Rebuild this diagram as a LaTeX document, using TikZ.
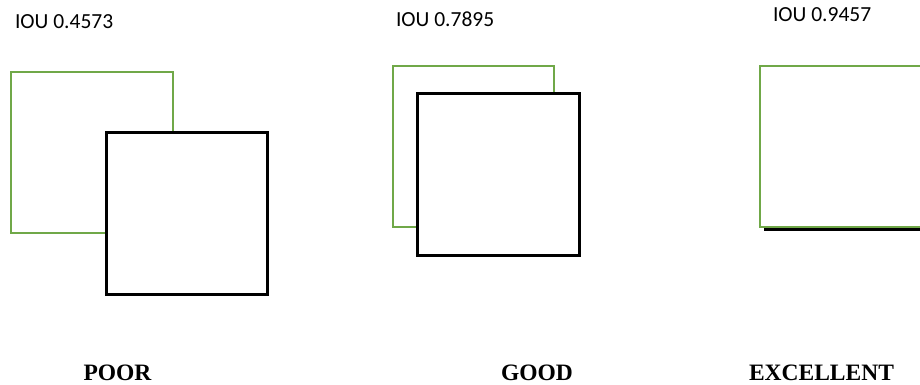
\documentclass[tikz,border=0pt]{standalone}
\usepackage{fontspec}
\setmainfont{Liberation Serif}
\newfontfamily\calibri{Carlito}
\usetikzlibrary{positioning}
\definecolor{gtgreen}{RGB}{112,168,72}

\begin{document}
\begin{tikzpicture}[
  x=1pt, y=-1pt,
  every node/.style={inner sep=0pt, outer sep=0pt},
  gtbox/.style  ={draw=gtgreen, line width=2.3pt, fill=white,
                  minimum width=161.5pt, minimum height=161.5pt},
  predbox/.style={draw=black, line width=2.7pt, fill=white,
                  minimum width=161.5pt, minimum height=161.5pt},
  iou/.style    ={font=\calibri\fontsize{21.5}{25}\selectfont, anchor=base west},
  grade/.style  ={font=\bfseries\fontsize{23.5}{28}\selectfont, anchor=base}]

\useasboundingbox (0,0) rectangle (920,385);
\clip (0,0) rectangle (920,385);

% ----------------------------- poor ----------------------------------
\node[gtbox]   (gtpoor)   at (92,152.5) {};
\node[predbox] (predpoor) at (187,213.5) {};
\node[iou]   (ioupoor) at (15,29) {IOU 0.4573};
\node[grade] (poor)    at (117.5,380) {POOR};

% ----------------------------- good ----------------------------------
\node[gtbox]   (gtgood)   at (473.5,146.5) {};
\node[predbox] (predgood) at (498.5,174.5) {};
\node[iou]   (iougood) at (396,27) {IOU 0.7895};
\node[grade] (good)    at (537,380) {GOOD};

% --------------------------- excellent -------------------------------
% the prediction lies almost under the ground truth, only its bottom shows
\node[predbox] (predexc) at (846.5,148.5) {};
\node[gtbox]   (gtexc)   at (840.5,146.5) {};
\node[iou]   (iouexc) at (773,22) {IOU 0.9457};
\node[grade] (exc)    at (821.5,380) {EXCELLENT};

\end{tikzpicture}
\end{document}
